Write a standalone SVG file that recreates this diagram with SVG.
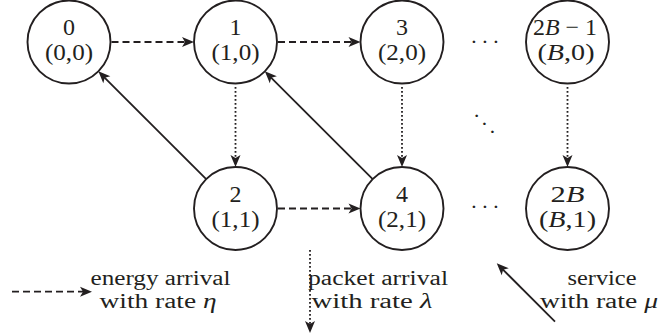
<svg xmlns="http://www.w3.org/2000/svg" width="660" height="336" viewBox="0 0 660 336">
<style>
.node circle{fill:#fff;stroke:#231f20;stroke-width:1.9}
text{font-family:"Liberation Serif","Times New Roman",serif;fill:#231f20}
.lbl{font-size:24px;text-anchor:middle}
.leg{font-size:20px;text-anchor:middle}
.it{font-style:italic}
.dots{font-size:22px;text-anchor:middle}
.c{fill:none;stroke:#231f20;stroke-width:1.8}
.dash{stroke-dasharray:7 4}
.dot{stroke-dasharray:1.8 2.2;stroke-width:1.8}
</style>
<defs>
<marker id="ah" viewBox="-13 -6 14 12" refX="-7" refY="0" markerWidth="14" markerHeight="12" markerUnits="userSpaceOnUse" orient="auto">
<path d="M0,0 L-12,-5 L-9,0 L-12,5 Z" fill="#231f20"/>
</marker>
</defs>
<g id="connectors">
<line class="c dash" x1="111.5" y1="42" x2="187" y2="42" marker-end="url(#ah)"/>
<line class="c dash" x1="278" y1="42" x2="353.5" y2="42" marker-end="url(#ah)"/>
<line class="c dash" x1="278" y1="208.5" x2="353.5" y2="208.5" marker-end="url(#ah)"/>
<line class="c dot" x1="235.5" y1="87" x2="235.5" y2="160" marker-end="url(#ah)"/>
<line class="c dot" x1="402" y1="87" x2="402" y2="160" marker-end="url(#ah)"/>
<line class="c dot" x1="567.5" y1="87" x2="567.5" y2="160" marker-end="url(#ah)"/>
<line class="c" x1="206.2" y1="179.2" x2="103.3" y2="76.3" marker-end="url(#ah)"/>
<line class="c" x1="372.7" y1="179.2" x2="269.8" y2="76.3" marker-end="url(#ah)"/>
</g>
<g id="n0" class="node"><circle cx="69" cy="42" r="41.5"/><text class="lbl" x="69" y="35">0</text><text class="lbl" x="69" y="60" textLength="48" lengthAdjust="spacingAndGlyphs">(0,0)</text></g>
<g id="n1" class="node"><circle cx="235.5" cy="42" r="41.5"/><text class="lbl" x="235.5" y="35">1</text><text class="lbl" x="235.5" y="60" textLength="48" lengthAdjust="spacingAndGlyphs">(1,0)</text></g>
<g id="n3" class="node"><circle cx="402" cy="42" r="41.5"/><text class="lbl" x="402" y="35">3</text><text class="lbl" x="402" y="60" textLength="48" lengthAdjust="spacingAndGlyphs">(2,0)</text></g>
<g id="n2Bm1" class="node"><circle cx="567.5" cy="42" r="41.5"/><text class="lbl" x="565" y="35" textLength="64" lengthAdjust="spacingAndGlyphs">2<tspan class="it">B</tspan> − 1</text><text class="lbl" x="566" y="60" textLength="57" lengthAdjust="spacingAndGlyphs">(<tspan class="it">B</tspan>,0)</text></g>
<g id="n2" class="node"><circle cx="235.5" cy="208.5" r="41.5"/><text class="lbl" x="235.5" y="201.5">2</text><text class="lbl" x="235.5" y="226.5" textLength="48" lengthAdjust="spacingAndGlyphs">(1,1)</text></g>
<g id="n4" class="node"><circle cx="402" cy="208.5" r="41.5"/><text class="lbl" x="402" y="201.5">4</text><text class="lbl" x="402" y="226.5" textLength="48" lengthAdjust="spacingAndGlyphs">(2,1)</text></g>
<g id="n2B" class="node"><circle cx="567.5" cy="208.5" r="41.5"/><text class="lbl" x="567.5" y="201.5" textLength="34" lengthAdjust="spacingAndGlyphs">2<tspan class="it">B</tspan></text><text class="lbl" x="567.5" y="226.5" textLength="57" lengthAdjust="spacingAndGlyphs">(<tspan class="it">B</tspan>,1)</text></g>
<g id="ellipses">
<text class="dots" x="474 485 496" y="48.5">···</text>
<text class="dots" x="476.7 484.3 492.3" y="123 131 139">···</text>
<text class="dots" x="474 485 496" y="214">···</text>
</g>
<g id="legend">
<line class="c dash" x1="12" y1="291.7" x2="85" y2="291.7" marker-end="url(#ah)"/>
<text class="leg" x="160.5" y="284.5" textLength="140" lengthAdjust="spacingAndGlyphs">energy arrival</text>
<text class="leg" x="158" y="307.5" textLength="117" lengthAdjust="spacingAndGlyphs">with rate <tspan class="it">η</tspan></text>
<line class="c dot" x1="310" y1="250" x2="310" y2="326" marker-end="url(#ah)"/>
<text class="leg" x="378" y="284.5" textLength="140" lengthAdjust="spacingAndGlyphs">packet arrival</text>
<text class="leg" x="372" y="307.5" textLength="121" lengthAdjust="spacingAndGlyphs">with rate <tspan class="it">λ</tspan></text>
<line class="c" x1="555" y1="321.7" x2="501.7" y2="268.3" marker-end="url(#ah)"/>
<text class="leg" x="602" y="284.5" textLength="69" lengthAdjust="spacingAndGlyphs">service</text>
<text class="leg" x="599" y="307.5" textLength="118" lengthAdjust="spacingAndGlyphs">with rate <tspan class="it">μ</tspan></text>
</g>
</svg>
